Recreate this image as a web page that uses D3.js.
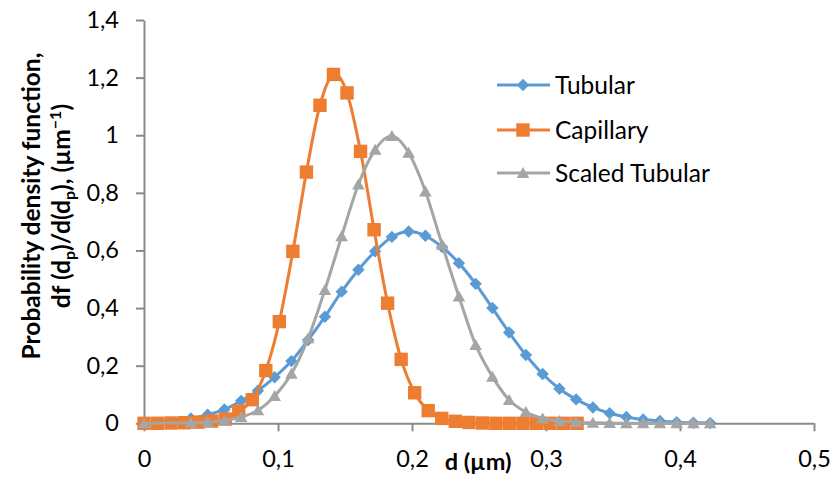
<!DOCTYPE html>
<html>
<head>
<meta charset="utf-8">
<script src="https://cdn.jsdelivr.net/npm/d3@7"></script>
<style>
  body { margin: 0; background: #fff; }
  text { font-family: Lato, "Open Sans", sans-serif; fill: #000; }
</style>
</head>
<body>
<svg id="chart" width="840" height="477"></svg>
<script>
// Particle diameter d (µm) and probability density for each series
const tubularD = [0, 0.035, 0.0475, 0.06, 0.0725, 0.085, 0.0975, 0.11, 0.1225, 0.135, 0.1475,
  0.16, 0.1725, 0.185, 0.1975, 0.21, 0.2225, 0.235, 0.2475, 0.26, 0.2725, 0.285, 0.2975,
  0.31, 0.3225, 0.335, 0.3475, 0.36, 0.3725, 0.385, 0.3975, 0.41, 0.4225];
const tubularF = [0, 0.017, 0.03, 0.048, 0.078, 0.113, 0.16, 0.216, 0.289, 0.37, 0.457,
  0.533, 0.597, 0.647, 0.666, 0.651, 0.612, 0.556, 0.484, 0.4, 0.315, 0.237, 0.171,
  0.12, 0.083, 0.055, 0.035, 0.022, 0.013, 0.008, 0.004, 0.002, 0.001];

const capillaryD = [0, 0.0101, 0.0202, 0.0303, 0.0404, 0.0505, 0.0606, 0.0707, 0.0808, 0.0909,
  0.101, 0.1111, 0.1212, 0.1313, 0.1414, 0.1515, 0.1616, 0.1717, 0.1818, 0.1919, 0.202,
  0.2121, 0.2222, 0.2323, 0.2424, 0.2525, 0.2626, 0.2727, 0.2828, 0.2929, 0.303, 0.3131, 0.3232];
const capillaryF = [0, 0, 0.001, 0.002, 0.004, 0.008, 0.015, 0.042, 0.082, 0.183,
  0.353, 0.597, 0.872, 1.104, 1.211, 1.147, 0.944, 0.672, 0.417, 0.222, 0.106,
  0.044, 0.017, 0.007, 0.003, 0.001, 0, 0, 0, 0, 0, 0, 0];

const scaledTubularD = tubularD;
const scaledTubularF = [0, 0.002, 0.004, 0.01, 0.022, 0.045, 0.095, 0.172, 0.295, 0.463, 0.649,
  0.829, 0.95, 0.997, 0.939, 0.805, 0.62, 0.44, 0.272, 0.162, 0.081, 0.039, 0.017,
  0.008, 0.004, 0.002, 0.001, 0, 0, 0, 0, 0, 0];

const seriesNames = ["Tubular", "Capillary", "Scaled Tubular"];
const seriesColors = ["#5B9BD5", "#ED7D31", "#A5A5A5"];
const seriesMarkers = ["diamond", "square", "triangle"];

const xTicks = [0, 0.1, 0.2, 0.3, 0.4, 0.5];
const yTicks = [0, 0.2, 0.4, 0.6, 0.8, 1, 1.2, 1.4];

const xTitle = "d (µm)";
const yTitle1 = "Probability density function,";

const series = [
  { name: seriesNames[0], d: tubularD, f: tubularF },
  { name: seriesNames[1], d: capillaryD, f: capillaryF },
  { name: seriesNames[2], d: scaledTubularD, f: scaledTubularF }
].map((s, i) => ({
  ...s,
  color: seriesColors[i],
  marker: seriesMarkers[i],
  points: s.d.map((d, j) => ({ d, f: s.f[j] }))
}));

const svg = d3.select("#chart");
svg.append("rect").attr("width", 840).attr("height", 477).attr("fill", "#fff");

const x = d3.scaleLinear().domain([0, 0.5]).range([144, 814]);
const y = d3.scaleLinear().domain([0, 1.4]).range([423.3, 20]);

const comma = v => String(+v.toFixed(1)).replace(".", ",");
const axisColor = "#8a8a8a";

// y axis
const yAxis = svg.append("g")
  .attr("transform", `translate(${x(0)},0)`)
  .call(d3.axisLeft(y).tickValues(yTicks).tickFormat(comma).tickSize(8).tickSizeOuter(0).tickPadding(17));
// x axis
const xAxis = svg.append("g")
  .attr("transform", `translate(0,${y(0)})`)
  .call(d3.axisBottom(x).tickValues(xTicks).tickFormat(comma).tickSize(8).tickSizeOuter(0).tickPadding(19));

[xAxis, yAxis].forEach(g => {
  g.select(".domain").attr("stroke", axisColor).attr("stroke-width", 2);
  g.selectAll(".tick line").attr("stroke", axisColor).attr("stroke-width", 2);
  g.selectAll(".tick text").attr("font-size", 23.5).attr("font-family", "Lato, 'Open Sans', sans-serif").attr("fill", "#000");
});

// marker shapes
function markerPath(type) {
  if (type === "diamond") return "M0,-6.2L6.2,0L0,6.2L-6.2,0Z";
  if (type === "square") return "M-6.7,-6.7H6.7V6.7H-6.7Z";
  return "M0,-6L6.3,5L-6.3,5Z";
}

const line = d3.line()
  .x(p => x(p.d))
  .y(p => y(p.f))
  .curve(d3.curveCardinal.tension(0));

const plot = svg.append("g");
series.forEach(s => {
  const g = plot.append("g");
  g.append("path")
    .attr("d", line(s.points))
    .attr("fill", "none")
    .attr("stroke", s.color)
    .attr("stroke-width", 3)
    .attr("stroke-linejoin", "round");
  g.selectAll("path.m")
    .data(s.points)
    .join("path")
    .attr("class", "m")
    .attr("d", markerPath(s.marker))
    .attr("transform", p => `translate(${x(p.d)},${y(p.f)})`)
    .attr("fill", s.color);
});

// legend
const legendY = [85, 130, 173];
series.forEach((s, i) => {
  const g = svg.append("g").attr("transform", `translate(0,${legendY[i]})`);
  g.append("line").attr("x1", 497).attr("x2", 550).attr("stroke", s.color).attr("stroke-width", 3);
  g.append("path").attr("d", markerPath(s.marker)).attr("transform", "translate(523,0)").attr("fill", s.color);
  g.append("text").attr("x", 555).attr("y", 8.5).attr("font-size", 24.5).text(s.name);
});

// axis titles
svg.append("text")
  .attr("x", 478).attr("y", 470)
  .attr("text-anchor", "middle")
  .attr("font-size", 23.5).attr("font-weight", "bold")
  .text(xTitle);

const yt = svg.append("g").attr("transform", "translate(40,206) rotate(-90)");
yt.append("text")
  .attr("text-anchor", "middle")
  .attr("font-size", 24.5).attr("font-weight", "bold")
  .text(yTitle1);
const t2 = yt.append("text")
  .attr("y", 30)
  .attr("text-anchor", "middle")
  .attr("font-size", 24.5).attr("font-weight", "bold");
t2.append("tspan").text("df (d");
t2.append("tspan").attr("dy", 5).attr("font-size", 16).text("p");
t2.append("tspan").attr("dy", -5).text(")/d(d");
t2.append("tspan").attr("dy", 5).attr("font-size", 16).text("p");
t2.append("tspan").attr("dy", -5).text("), (µm");
t2.append("tspan").attr("dy", -9).attr("font-size", 16).text("−1");
t2.append("tspan").attr("dy", 9).text(")");
</script>
</body>
</html>
